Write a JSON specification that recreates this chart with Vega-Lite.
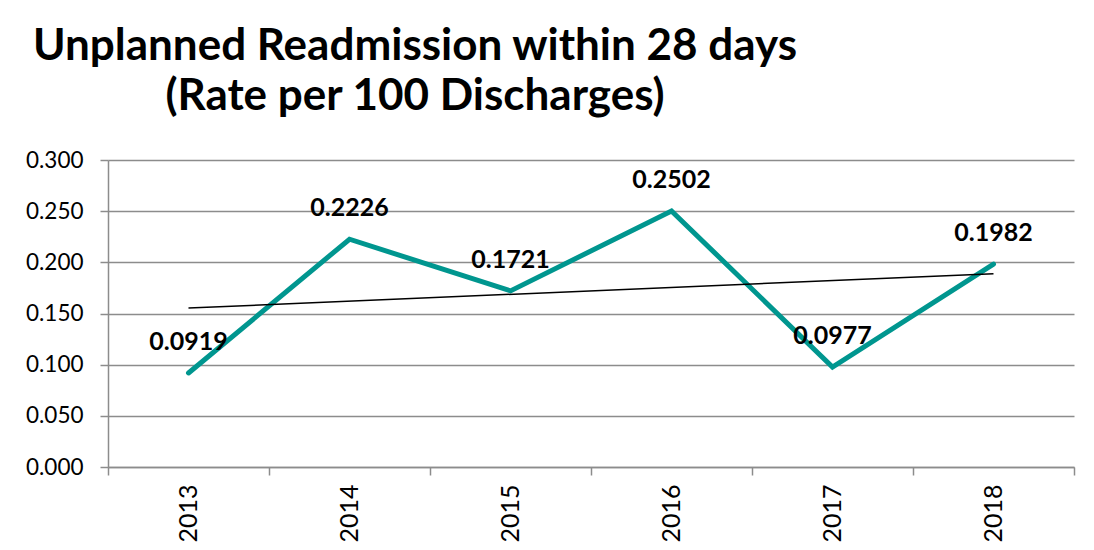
{
  "$schema": "https://vega.github.io/schema/vega-lite/v6.json",
  "autosize": "none",
  "width": 966,
  "height": 307,
  "padding": {"left": 108, "top": 160, "right": 20, "bottom": 83},
  "background": "white",
  "config": {
    "view": {"stroke": null},
    "font": "Lato",
    "axis": {"labelFont": "Lato", "labelColor": "black", "labelFontSize": 22.5, "domainColor": "#8c8c8c", "tickColor": "#8c8c8c", "gridColor": "#8c8c8c", "domainWidth": 1.5, "tickWidth": 1.5, "gridWidth": 1.5}
  },
  "title": {
    "text": ["Unplanned Readmission within 28 days", "(Rate per 100 Discharges)"],
    "font": "Lato",
    "fontSize": 44,
    "fontWeight": "bold",
    "color": "black",
    "anchor": "start",
    "align": "center",
    "frame": "group",
    "dx": 307,
    "lineHeight": 50,
    "offset": 30
  },
  "data": {
    "values": [
      {"year": 2013, "rate": 0.0919},
      {"year": 2014, "rate": 0.2226},
      {"year": 2015, "rate": 0.1721},
      {"year": 2016, "rate": 0.2502},
      {"year": 2017, "rate": 0.0977},
      {"year": 2018, "rate": 0.1982}
    ]
  },
  "resolve": {"axis": {"x": "independent"}},
  "layer": [
    {
      "mark": {"type": "line", "color": "#00968F", "strokeWidth": 5, "strokeCap": "round", "strokeJoin": "miter"},
      "encoding": {
        "x": {"field": "year", "type": "quantitative", "scale": {"domain": [2012.5, 2018.5], "nice": false, "zero": false},
          "axis": {"orient": "bottom", "values": [2013, 2014, 2015, 2016, 2017, 2018], "format": "d", "ticks": false, "labelAngle": -90, "labelPadding": 17, "labelFontSize": 25, "grid": false, "title": null, "labelAlign": "right", "labelBaseline": "middle"}},
        "y": {"field": "rate", "type": "quantitative", "scale": {"domain": [0, 0.3], "nice": false},
          "axis": {"values": [0, 0.05, 0.1, 0.15, 0.2, 0.25, 0.3], "format": ".3f", "tickSize": 8, "labelPadding": 17, "title": null, "grid": true}}
      }
    },
    {
      "transform": [{"regression": "rate", "on": "year"}],
      "mark": {"type": "line", "color": "black", "strokeWidth": 1.5},
      "encoding": {
        "x": {"field": "year", "type": "quantitative",
          "axis": {"orient": "bottom", "values": [2012.5, 2013.5, 2014.5, 2015.5, 2016.5, 2017.5, 2018.5], "labels": false, "tickSize": 8, "domain": false, "grid": false, "title": null}},
        "y": {"field": "rate", "type": "quantitative"}
      }
    },
    {
      "mark": {"type": "text", "font": "Lato", "fontSize": 25, "fontWeight": "bold", "color": "black", "dy": -31, "baseline": "middle", "align": "center"},
      "encoding": {
        "x": {"field": "year", "type": "quantitative", "axis": null},
        "y": {"field": "rate", "type": "quantitative"},
        "text": {"field": "rate", "type": "quantitative", "format": ".4f"}
      }
    }
  ]
}
